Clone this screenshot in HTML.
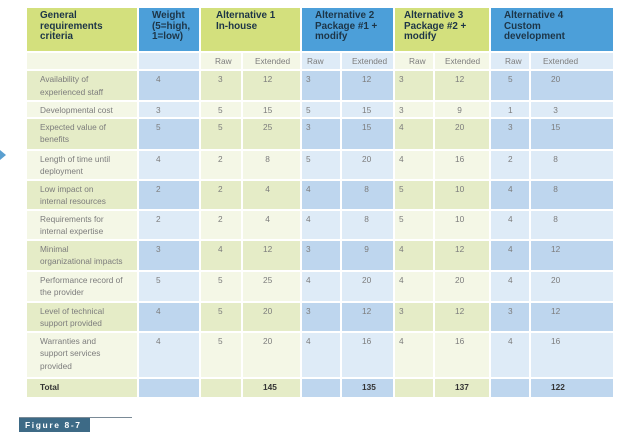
<!DOCTYPE html>
<html><head><meta charset="utf-8"><style>
body{margin:0;width:624px;height:437px;background:#fff;position:relative;overflow:hidden;font-family:"Liberation Sans",sans-serif}
table{position:absolute;left:25px;top:6px;border-collapse:separate;border-spacing:2px;table-layout:fixed}
td{padding:2px 0 0 0;vertical-align:top;font-size:8.3px;line-height:12.5px;color:#7c7c7c;overflow:hidden;white-space:nowrap}
td.c{padding-left:4px}
td.n1{padding-left:17px}
td.n2{padding-left:20px}
tr.h td{font-size:9.9px;font-weight:bold;line-height:10.5px;color:#1d3547;padding:3px 0 0 5px}
.hg{background:#d3e07d}.hb{background:#4c9fd9}
tr.s td{background:#f4f7e6;padding-left:14px}
tr.s td.b{background:#deebf7}
tr.d td{background:#e5ecc7}tr.d td.b{background:#bed6ee}
tr.l td{background:#f4f7e6}tr.l td.b{background:#deebf7}
tr.t td{font-weight:bold;color:#333}
</style></head><body>
<div style="position:absolute;left:0;top:150px;width:0;height:0;border-top:5px solid transparent;border-bottom:5px solid transparent;border-left:6px solid #5a9fd0"></div>
<table>
<colgroup><col style="width:110px"><col style="width:60px"><col style="width:40px"><col style="width:57px"><col style="width:38px"><col style="width:51px"><col style="width:38px"><col style="width:54px"><col style="width:38px"><col style="width:82px"></colgroup>
<tr class="h" style="height:43px"><td class="hg" style="padding-left:13px">General<br>requirements<br>criteria</td><td class="hb" style="padding-left:13px">Weight<br>(5=high,<br>1=low)</td><td class="hg" colspan="2" style="padding-left:15px">Alternative 1<br>In-house</td><td class="hb" colspan="2" style="padding-left:13px">Alternative 2<br>Package #1 +<br>modify</td><td class="hg" colspan="2" style="padding-left:9px">Alternative 3<br>Package #2 +<br>modify</td><td class="hb" colspan="2" style="padding-left:13px">Alternative 4<br>Custom<br>development</td></tr>
<tr class="s" style="height:16px"><td></td><td class="b"></td><td style="padding-left:14px">Raw</td><td style="padding-left:12px">Extended</td><td class="b" style="padding-left:5px">Raw</td><td class="b" style="padding-left:10px">Extended</td><td style="padding-left:14px">Raw</td><td style="padding-left:10px">Extended</td><td class="b" style="padding-left:14px">Raw</td><td class="b" style="padding-left:12px">Extended</td></tr>
<tr class="d" style="height:29px"><td class="c" style="padding-left:13px">Availability of<br>experienced staff</td><td class="b n1">4</td><td class="n1">3</td><td class="n2">12</td><td class="b c">3</td><td class="b n2">12</td><td class="c">3</td><td class="n2">12</td><td class="b n1">5</td><td class="b n2">20</td></tr>
<tr class="l" style="height:14px"><td class="c" style="padding-left:13px">Developmental cost</td><td class="b n1">3</td><td class="n1">5</td><td class="n2">15</td><td class="b c">5</td><td class="b n2">15</td><td class="c">3</td><td class="n2">&nbsp;9</td><td class="b n1">1</td><td class="b n2">&nbsp;3</td></tr>
<tr class="d" style="height:30px"><td class="c" style="padding-left:13px">Expected value of<br>benefits</td><td class="b n1">5</td><td class="n1">5</td><td class="n2">25</td><td class="b c">3</td><td class="b n2">15</td><td class="c">4</td><td class="n2">20</td><td class="b n1">3</td><td class="b n2">15</td></tr>
<tr class="l" style="height:28px"><td class="c" style="padding-left:13px">Length of time until<br>deployment</td><td class="b n1">4</td><td class="n1">2</td><td class="n2">&nbsp;8</td><td class="b c">5</td><td class="b n2">20</td><td class="c">4</td><td class="n2">16</td><td class="b n1">2</td><td class="b n2">&nbsp;8</td></tr>
<tr class="d" style="height:28px"><td class="c" style="padding-left:13px">Low impact on<br>internal resources</td><td class="b n1">2</td><td class="n1">2</td><td class="n2">&nbsp;4</td><td class="b c">4</td><td class="b n2">&nbsp;8</td><td class="c">5</td><td class="n2">10</td><td class="b n1">4</td><td class="b n2">&nbsp;8</td></tr>
<tr class="l" style="height:28px"><td class="c" style="padding-left:13px">Requirements for<br>internal expertise</td><td class="b n1">2</td><td class="n1">2</td><td class="n2">&nbsp;4</td><td class="b c">4</td><td class="b n2">&nbsp;8</td><td class="c">5</td><td class="n2">10</td><td class="b n1">4</td><td class="b n2">&nbsp;8</td></tr>
<tr class="d" style="height:29px"><td class="c" style="padding-left:13px">Minimal<br>organizational impacts</td><td class="b n1">3</td><td class="n1">4</td><td class="n2">12</td><td class="b c">3</td><td class="b n2">&nbsp;9</td><td class="c">4</td><td class="n2">12</td><td class="b n1">4</td><td class="b n2">12</td></tr>
<tr class="l" style="height:29px"><td class="c" style="padding-left:13px">Performance record of<br>the provider</td><td class="b n1">5</td><td class="n1">5</td><td class="n2">25</td><td class="b c">4</td><td class="b n2">20</td><td class="c">4</td><td class="n2">20</td><td class="b n1">4</td><td class="b n2">20</td></tr>
<tr class="d" style="height:28px"><td class="c" style="padding-left:13px">Level of technical<br>support provided</td><td class="b n1">4</td><td class="n1">5</td><td class="n2">20</td><td class="b c">3</td><td class="b n2">12</td><td class="c">3</td><td class="n2">12</td><td class="b n1">3</td><td class="b n2">12</td></tr>
<tr class="l" style="height:44px"><td class="c" style="padding-left:13px">Warranties and<br>support services<br>provided</td><td class="b n1">4</td><td class="n1">5</td><td class="n2">20</td><td class="b c">4</td><td class="b n2">16</td><td class="c">4</td><td class="n2">16</td><td class="b n1">4</td><td class="b n2">16</td></tr>
<tr class="d t" style="height:18px"><td class="c" style="padding-left:13px">Total</td><td class="b"></td><td></td><td class="n2">145</td><td class="b"></td><td class="b n2">135</td><td></td><td class="n2">137</td><td class="b"></td><td class="b n2">122</td></tr>
</table>
<div style="position:absolute;left:19px;top:417px;width:113px;height:1px;background:#7a8a96"></div>
<div style="position:absolute;left:19px;top:418px;width:71px;height:14px;background:#3d6a86;color:#fff;font-size:8.5px;font-weight:bold;letter-spacing:1.6px;line-height:14px;padding-left:6px;box-sizing:border-box">Figure 8-7</div>
</body></html>
